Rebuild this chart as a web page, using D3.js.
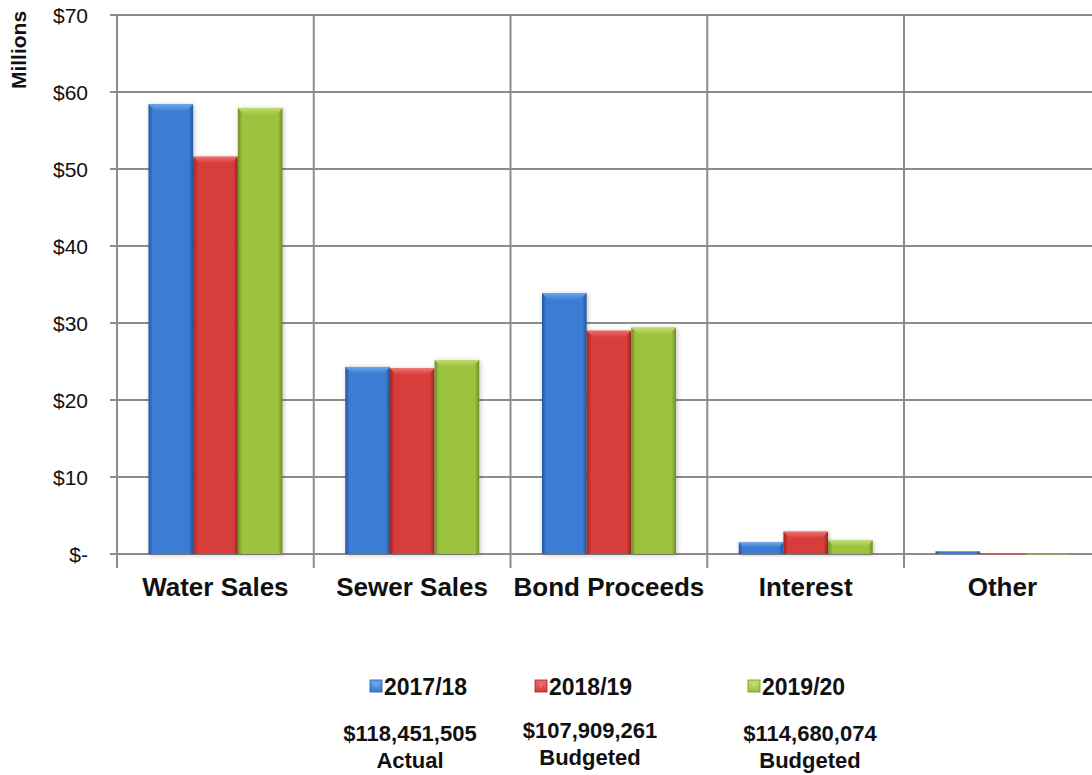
<!DOCTYPE html>
<html>
<head>
<meta charset="utf-8">
<script src="https://cdn.jsdelivr.net/npm/d3@7"></script>
<style>
  html, body { margin: 0; padding: 0; background: #fff; }
  svg { display: block; font-family: Arial, "Liberation Sans", sans-serif; }
</style>
</head>
<body>
<svg id="chart" width="1092" height="775"></svg>
<script>
// Revenue by source, in millions of dollars
const categories = ["Water Sales", "Sewer Sales", "Bond Proceeds", "Interest", "Other"];
const seriesNames = ["2017/18", "2018/19", "2019/20"];
const fy1718 = [58.4, 24.3, 33.9, 1.5, 0.35];
const fy1819 = [51.6, 24.1, 29.0, 2.9, 0.05];
const fy1920 = [57.9, 25.2, 29.4, 1.75, 0.05];
const yTicks = [0, 10, 20, 30, 40, 50, 60, 70];
const totals = ["$118,451,505", "$107,909,261", "$114,680,074"];
const totalNotes = ["Actual", "Budgeted", "Budgeted"];

const seriesValues = [fy1718, fy1819, fy1920];
const palette = [
  { base: "#3b7dd4", light: "#6aa6ec", dark: "#24569f" },
  { base: "#d63c3a", light: "#ee6e6a", dark: "#9c2422" },
  { base: "#9cc33e", light: "#c0dd6b", dark: "#6e8f25" }
];

const svg = d3.select("#chart");
const defs = svg.append("defs");

const plotLeft = 117, plotTop = 15, plotBottom = 554;
const catWidth = 196.75;

const y = d3.scaleLinear().domain([0, 70]).range([plotBottom, plotTop]);
const x0 = d3.scaleBand().domain(categories)
  .range([plotLeft, plotLeft + catWidth * categories.length]).padding(0);
const x1 = d3.scaleBand().domain(seriesNames).range([31.5, 165.5]).padding(0);

// Gradients for the bevelled bar look
palette.forEach((c, i) => {
  const g = defs.append("linearGradient").attr("id", "body" + i)
    .attr("x1", "0").attr("x2", "1").attr("y1", "0").attr("y2", "0");
  g.append("stop").attr("offset", "0").attr("stop-color", c.dark);
  g.append("stop").attr("offset", "0.1").attr("stop-color", c.base);
  g.append("stop").attr("offset", "0.5").attr("stop-color", c.base);
  g.append("stop").attr("offset", "0.9").attr("stop-color", c.base);
  g.append("stop").attr("offset", "1").attr("stop-color", c.dark);
  const t = defs.append("linearGradient").attr("id", "top" + i)
    .attr("x1", "0").attr("x2", "0").attr("y1", "0").attr("y2", "1");
  t.append("stop").attr("offset", "0").attr("stop-color", c.light);
  t.append("stop").attr("offset", "1").attr("stop-color", c.base);
});
const shadow = defs.append("filter").attr("id", "shadow")
  .attr("x", "-20%").attr("y", "-20%").attr("width", "140%").attr("height", "140%");
shadow.append("feGaussianBlur").attr("in", "SourceAlpha").attr("stdDeviation", 2.5);
shadow.append("feOffset").attr("dx", 1).attr("dy", 1).attr("result", "b");
shadow.append("feComponentTransfer").append("feFuncA").attr("type", "linear").attr("slope", 0.25);
const merge = shadow.append("feMerge");
merge.append("feMergeNode");
merge.append("feMergeNode").attr("in", "SourceGraphic");

const gridColor = "#8c8c8c";

// Horizontal gridlines with short ticks left of the axis
svg.append("g").selectAll("line").data(yTicks).join("line")
  .attr("x1", plotLeft - 7).attr("x2", 1092)
  .attr("y1", d => y(d)).attr("y2", d => y(d))
  .attr("stroke", gridColor).attr("stroke-width", 2);

// Vertical gridlines at category boundaries, extending below the baseline
const bounds = categories.map(c => x0(c));
svg.append("g").selectAll("line").data(bounds).join("line")
  .attr("x1", d => d).attr("x2", d => d)
  .attr("y1", plotTop).attr("y2", plotBottom + 14)
  .attr("stroke", gridColor).attr("stroke-width", 2);

// Y tick labels
svg.append("g").selectAll("text").data(yTicks).join("text")
  .attr("x", 88).attr("y", d => y(d) + 7.5)
  .attr("text-anchor", "end").attr("font-size", 21).attr("fill", "#111")
  .text(d => d === 0 ? "$-" : "$" + d);

// Y axis title
svg.append("text")
  .attr("transform", "translate(26,50) rotate(-90)")
  .attr("text-anchor", "middle").attr("font-size", 21).attr("font-weight", "bold")
  .attr("fill", "#111").text("Millions");

// Bars
const groups = svg.append("g").selectAll("g").data(categories).join("g")
  .attr("transform", c => `translate(${x0(c)},0)`);

groups.each(function (c, ci) {
  const g = d3.select(this);
  seriesNames.forEach((s, si) => {
    const v = seriesValues[si][ci];
    const bx = x1(s), bw = x1.bandwidth();
    const top = y(v), h = plotBottom - top;
    const bar = g.append("g").attr("filter", h > 4 ? "url(#shadow)" : null);
    bar.append("rect")
      .attr("x", bx).attr("y", top).attr("width", bw).attr("height", Math.max(h, 0.8))
      .attr("fill", `url(#body${si})`);
    const bev = Math.min(7, h * 0.45);
    if (h > 3) {
      bar.append("path")
        .attr("d", `M${bx},${top} L${bx + bw},${top} L${bx + bw - bev},${top + bev} L${bx + bev},${top + bev} Z`)
        .attr("fill", `url(#top${si})`);
    }
  });
});

// Category labels
svg.append("g").selectAll("text").data(categories).join("text")
  .attr("x", c => x0(c) + x0.bandwidth() / 2).attr("y", 596)
  .attr("text-anchor", "middle").attr("font-size", 26).attr("font-weight", "bold")
  .attr("fill", "#111").text(c => c);

// Legend
const legendX = [370, 535, 748];
const legend = svg.append("g").selectAll("g").data(seriesNames).join("g")
  .attr("transform", (d, i) => `translate(${legendX[i]},686)`);
legend.append("rect").attr("x", 0).attr("y", -6).attr("width", 12).attr("height", 12)
  .attr("fill", (d, i) => `url(#top${i})`).attr("stroke", (d, i) => palette[i].dark).attr("stroke-width", 0.8);
legend.append("path").attr("d", "M3,-3 L9,-3 L6,2 Z").attr("fill", (d, i) => palette[i].light);
legend.append("text").attr("x", 14).attr("y", 8.5)
  .attr("font-size", 23).attr("font-weight", "bold").attr("fill", "#111").text(d => d);

// Fiscal-year totals
const totalX = [410, 590, 810];
const totalY = [741, 738, 741];
const totalsG = svg.append("g").selectAll("g").data(totals).join("g");
totalsG.append("text").attr("x", (d, i) => totalX[i]).attr("y", (d, i) => totalY[i])
  .attr("text-anchor", "middle").attr("font-size", 22).attr("font-weight", "bold")
  .attr("fill", "#111").text(d => d);
totalsG.append("text").attr("x", (d, i) => totalX[i]).attr("y", (d, i) => totalY[i] + 27)
  .attr("text-anchor", "middle").attr("font-size", 22).attr("font-weight", "bold")
  .attr("fill", "#111").text((d, i) => totalNotes[i]);
</script>
</body>
</html>
